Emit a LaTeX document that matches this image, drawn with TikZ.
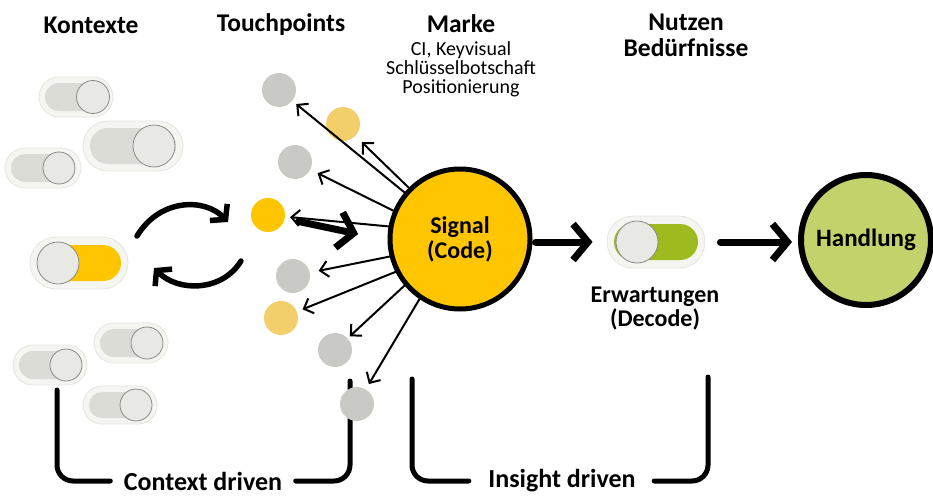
\documentclass[tikz,border=0pt]{standalone}
\usepackage{fontspec}
\setmainfont{Carlito}
\usetikzlibrary{arrows.meta,shapes.misc}

\definecolor{signalyellow}{HTML}{FFC600}
\definecolor{paleyellow}{HTML}{F2CF6A}
\definecolor{tpgray}{HTML}{C9C9C5}
\definecolor{pillbg}{HTML}{F5F5F2}
\definecolor{pillline}{HTML}{E4E4E0}
\definecolor{trackgray}{HTML}{DCDCD6}
\definecolor{knobgray}{HTML}{E8E8E4}
\definecolor{knobline}{HTML}{8A8A86}
\definecolor{trackgreen}{HTML}{9DBB1F}
\definecolor{actiongreen}{HTML}{C3D26B}

\tikzset{
  pill/.style={rounded rectangle, fill=pillbg, draw=pillline, line width=0.8pt, inner sep=0pt},
  track/.style={rounded rectangle, fill=trackgray, inner sep=0pt},
  knob/.style={circle, fill=knobgray, draw=knobline, line width=0.8pt, inner sep=0pt},
  touch/.style={circle, minimum size=34pt, inner sep=0pt},
  heading/.style={font=\bfseries\fontsize{25.5}{26}\selectfont, align=center},
  thinarrow/.style={-{Straight Barb[length=8pt,width=16pt]}, line width=2pt, line cap=round},
  bigarrow/.style={-{Straight Barb[length=15pt,width=36pt]}, line width=7pt, line cap=round},
  looparrow/.style={-{Straight Barb[length=10pt,width=24pt]}, line width=5.5pt, line cap=round},
  bracket/.style={line width=5pt, rounded corners=16pt, line cap=round},
}

\begin{document}
\begin{tikzpicture}[x=1pt, y=-1pt]
		\useasboundingbox (0,0) rectangle (933,495);

		\node[heading] (kontexte) at (91,25) {Kontexte};
		\node[heading] (touchpoints) at (281,25) {Touchpoints};
		\node[heading] (marke) at (461,24) {Marke};
		\node[align=center, font=\fontsize{20}{19}\selectfont] (markeinfo) at (461,69) {CI, Keyvisual\\Schlüsselbotschaft\\Positionierung};
		\node[heading] (nutzen) at (686,35) {Nutzen\\Bedürfnisse};

		\node[pill, minimum width=74pt, minimum height=40pt] (ctx1) at (76,97) {};
		\node[track, minimum width=62pt, minimum height=28pt] at (ctx1) {};
		\node[knob, minimum size=33pt] (ctx1k) at (93,97) {};

		\node[pill, minimum width=100pt, minimum height=50pt] (ctx2) at (133,146) {};
		\node[track, minimum width=86pt, minimum height=36pt] at (ctx2) {};
		\node[knob, minimum size=42pt] (ctx2k) at (154,146) {};

		\node[pill, minimum width=76pt, minimum height=40pt] (ctx3) at (43,168) {};
		\node[track, minimum width=64pt, minimum height=28pt] at (ctx3) {};
		\node[knob, minimum size=32pt] (ctx3k) at (59,168) {};

		\node[pill, minimum width=98pt, minimum height=52pt] (ctx4) at (79,263) {};
		\node[track, fill=signalyellow, minimum width=84pt, minimum height=36pt] at (ctx4) {};
		\node[knob, minimum size=42pt] (ctx4k) at (58,263) {};

		\node[pill, minimum width=74pt, minimum height=40pt] (ctx5) at (131,343) {};
		\node[track, minimum width=62pt, minimum height=28pt] at (ctx5) {};
		\node[knob, minimum size=32pt] (ctx5k) at (147,343) {};

		\node[pill, minimum width=74pt, minimum height=40pt] (ctx6) at (50,365) {};
		\node[track, minimum width=62pt, minimum height=28pt] at (ctx6) {};
		\node[knob, minimum size=32pt] (ctx6k) at (66,365) {};

		\node[pill, minimum width=74pt, minimum height=38pt] (ctx7) at (120,405) {};
		\node[track, minimum width=62pt, minimum height=26pt] at (ctx7) {};
		\node[knob, minimum size=32pt] (ctx7k) at (136,405) {};

		\coordinate (loopAstart) at (137,236);
		\coordinate (loopAend) at (228,222);
		\coordinate (loopBstart) at (241,261);
		\coordinate (loopBend) at (154,268);
		\draw[looparrow] (loopAstart) .. controls (160,198) and (205,198) .. (loopAend);
		\draw[looparrow] (loopBstart) .. controls (222,292) and (178,292) .. (loopBend);

		\node[font=\bfseries\fontsize{26}{26}\selectfont] (cdriven) at (203,481) {Context driven};
		\node[font=\bfseries\fontsize{26}{26}\selectfont] (idriven) at (562,481) {Insight driven};

		\draw[bracket] ([xshift=-10pt]cdriven.west) -| (57,390);
		\draw[bracket] ([xshift=10pt]cdriven.east) -| (350,381);
		\draw[bracket] ([xshift=-16pt]idriven.west) -| (412,379);
		\draw[bracket] ([xshift=15pt]idriven.east) -| (708,377);

		\node[touch, fill=tpgray] (tp1) at (279,90) {};
		\node[touch, fill=paleyellow] (tp2) at (343,124) {};
		\node[touch, fill=tpgray] (tp3) at (295,162) {};
		\node[touch, fill=signalyellow] (tp4) at (268,215) {};
		\node[touch, fill=tpgray] (tp5) at (293,276) {};
		\node[touch, fill=paleyellow] (tp6) at (281,318) {};
		\node[touch, fill=tpgray] (tp7) at (335,350) {};
		\node[touch, fill=tpgray] (tp8) at (357,404) {};

		\node[circle, draw=black, fill=signalyellow, line width=5pt, minimum size=140pt, inner sep=0pt, align=center, font=\bfseries\fontsize{24}{25}\selectfont] (sig) at (460,239) {Signal\\(Code)};

		\draw[thinarrow, shorten >=5pt] (sig.140) -- (tp1);
		\draw[thinarrow, shorten >=9pt] (sig.135) -- (tp2);
		\draw[thinarrow, shorten >=8pt] (sig.157) -- (tp3);
		\draw[thinarrow, shorten >=5pt] (sig.170) -- (tp4);
		\draw[thinarrow, shorten >=9pt] (sig.194) -- (tp5);
		\draw[thinarrow, shorten >=6pt] (sig.207) -- (tp6);
		\draw[thinarrow, shorten >=3pt] (sig.220) -- (tp7);
		\draw[thinarrow, shorten >=6pt] (sig.236) -- (tp8);

		\draw[bigarrow, shorten <=14pt, shorten >=30pt] (tp4) -- (sig.181);

		\node[pill, minimum width=98pt, minimum height=52pt] (erw) at (656,242) {};
		\node[track, fill=trackgreen, minimum width=84pt, minimum height=36pt] at (erw) {};
		\node[knob, minimum size=42pt] (erwk) at (637,242) {};
		\node[align=center, font=\bfseries\fontsize{24}{24}\selectfont] (erwtext) at (655,309) {Erwartungen\\(Decode)};

		\node[circle, draw=black, fill=actiongreen, line width=6pt, minimum size=130pt, inner sep=0pt, font=\bfseries\fontsize{25}{26}\selectfont] (hand) at (866,240) {Handlung};

		\draw[bigarrow, shorten <=3pt, shorten >=14pt] (erw.west -| sig.east) -- (erw.west);
		\draw[bigarrow, shorten <=15pt, shorten >=6pt] (erw.east) -- (hand.west |- erw.east);
	\end{tikzpicture}
\end{document}
